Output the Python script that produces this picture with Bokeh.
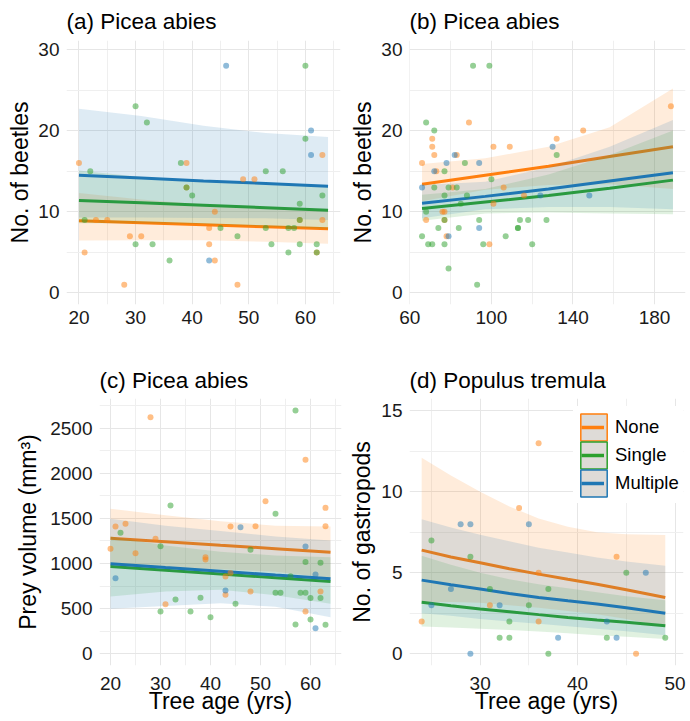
from bokeh.plotting import figure
from bokeh.models import FixedTicker, Range1d, Legend, LegendItem
from bokeh.layouts import column, row
from bokeh.embed import file_html
from bokeh.resources import INLINE

# ---------------- data ----------------
groups = ["None", "Single", "Multiple"]
colors = ["#ff7f0e", "#2ca02c", "#1f77b4"]

# (a) Picea abies: beetles vs tree age
a_none_x = [20, 21, 23, 25, 28, 29, 31, 39, 39, 43, 43, 44, 44, 48, 49, 51, 59, 62, 63, 63]
a_none_y = [16, 5, 9, 9, 1, 7, 7, 16, 13, 8, 6, 10, 4, 1, 14, 14, 9, 5, 17, 9]
a_single_x = [21, 22, 30, 30, 32, 33, 36, 38, 39, 40, 45, 48, 53, 53, 54, 56, 57, 57, 58, 59, 59, 59, 60, 60, 62, 62, 63]
a_single_y = [9, 15, 23, 6, 21, 6, 4, 16, 13, 12, 8, 7, 15, 8, 6, 15, 5, 8, 8, 11, 6, 9, 28, 19, 6, 5, 12]
a_multi_x = [43, 46, 61, 61]
a_multi_y = [4, 28, 20, 17]
a_fit_x = [20, 31, 42, 53, 64]
a_none_fit = [8.9, 8.65, 8.4, 8.15, 7.9]
a_none_lo = [6.45, 6.5, 6.5, 6.3, 6.05]
a_none_hi = [12.3, 11.5, 10.9, 10.5, 10.3]
a_single_fit = [11.4, 11.1, 10.8, 10.5, 10.2]
a_single_lo = [8.6, 8.6, 8.5, 8.2, 7.9]
a_single_hi = [15.1, 14.3, 13.8, 13.4, 13.2]
a_multi_fit = [14.5, 14.15, 13.8, 13.5, 13.15]
a_multi_lo = [9.3, 9.3, 9.25, 9.2, 9.0]
a_multi_hi = [22.7, 21.8, 20.6, 19.7, 19.2]

# (b) Picea abies: beetles vs tree age (older stands)
b_none_x = [66, 68, 71, 71, 72, 73, 76, 77, 77, 78, 81, 83, 89, 99, 101, 101, 106, 109, 116, 132, 145, 188]
b_none_y = [16, 9, 19, 18, 17, 15, 10, 9, 10, 7, 13, 17, 21, 6, 18, 11, 13, 18, 12, 19, 20, 23]
b_single_x = [66, 68, 68, 69, 71, 72, 72, 74, 77, 77, 77, 77, 79, 79, 83, 84, 85, 87, 88, 91, 93, 94, 96, 99, 100,
              107, 113, 113, 114, 118, 120, 127, 132]
b_single_y = [7, 21, 10, 6, 6, 20, 13, 8, 15, 12, 9, 6, 3, 13, 13, 8, 11, 16, 12, 28, 1, 9, 6, 28, 14,
              7, 8, 8, 9, 9, 6, 9, 17]
b_multi_x = [66, 72, 78, 79, 82, 94, 94, 124, 130, 148]
b_multi_y = [13, 15, 16, 7, 17, 16, 8, 12, 18, 12]
b_fit_x = [66, 97, 128, 158, 189]
b_none_fit = [13.4, 14.5, 15.6, 16.8, 18.0]
b_none_lo = [11.3, 12.7, 13.3, 13.4, 12.8]
b_none_hi = [15.9, 16.6, 18.0, 20.4, 25.2]
b_single_fit = [10.4, 11.2, 12.0, 12.9, 13.9]
b_single_lo = [8.9, 9.8, 9.9, 9.8, 9.7]
b_single_hi = [12.1, 12.8, 14.6, 17.0, 20.0]
b_multi_fit = [11.05, 11.9, 12.8, 13.8, 14.8]
b_multi_lo = [9.2, 10.3, 10.6, 10.6, 10.3]
b_multi_hi = [13.3, 13.7, 15.5, 18.0, 21.3]

# (c) Picea abies: prey volume vs tree age
c_none_x = [20, 21, 23, 25, 28, 29, 31, 39, 39, 43, 43, 44, 44, 48, 49, 51, 59, 59, 62, 63, 63]
c_none_y = [1163, 1411, 1440, 1115, 2620, 1274, 550, 1071, 1045, 857, 654, 1411, 894, 690, 1414, 1691, 2149, 469,
            690, 1617, 1414]
c_single_x = [22, 30, 30, 32, 33, 36, 38, 40, 45, 48, 53, 53, 54, 56, 57, 57, 58, 59, 59, 60, 60, 62, 62, 63]
c_single_y = [1340, 1193, 469, 1643, 602, 469, 620, 406, 554, 1152, 1551, 676, 676, 860, 2696, 325, 676, 676, 1016,
              617, 380, 1008, 617, 321]
c_multi_x = [21, 43, 46, 59, 61, 61]
c_multi_y = [838, 702, 1403, 1189, 879, 284]
c_fit_x = [20, 31, 42, 53, 64]
c_none_fit = [1281, 1242, 1203, 1165, 1126]
c_none_lo = [956, 950, 936, 910, 841]
c_none_hi = [1606, 1535, 1470, 1420, 1411]
c_single_fit = [968, 926, 884, 843, 801]
c_single_lo = [635, 690, 710, 650, 554]
c_single_hi = [1300, 1200, 1130, 1090, 1070]
c_multi_fit = [997, 955, 914, 872, 831]
c_multi_lo = [498, 530, 560, 520, 406]
c_multi_hi = [1496, 1420, 1360, 1300, 1256]

# (d) Populus tremula: gastropods vs tree age
d_none_x = [24, 31, 34, 36, 36, 36, 44, 46]
d_none_y = [2, 3, 9, 13, 5, 2, 6, 0]
d_single_x = [25, 29, 31, 32, 33, 33, 35, 37, 37, 43, 45, 49]
d_single_y = [7, 6, 4, 1, 2, 1, 3, 4, 0, 1, 5, 1]
d_multi_x = [25, 27, 28, 29, 29, 32, 35, 38, 43, 44, 47]
d_multi_y = [3, 4, 8, 8, 0, 3, 8, 1, 2, 1, 5]
d_fit_x = [24, 27, 30, 33, 36, 39, 42, 45, 49]
d_none_fit = [6.4, 5.98, 5.62, 5.25, 4.92, 4.6, 4.3, 3.95, 3.48]
d_none_lo = [3.2, 3.2, 3.15, 3.0, 2.85, 2.65, 2.45, 2.15, 1.65]
d_none_hi = [12.1, 11.0, 10.0, 9.1, 8.35, 7.85, 7.5, 7.38, 7.34]
d_single_fit = [3.18, 2.97, 2.77, 2.6, 2.42, 2.25, 2.09, 1.95, 1.74]
d_single_lo = [1.68, 1.62, 1.55, 1.47, 1.38, 1.27, 1.15, 1.05, 0.92]
d_single_hi = [6.05, 5.5, 5.0, 4.6, 4.3, 4.05, 3.8, 3.55, 3.3]
d_multi_fit = [4.55, 4.27, 4.0, 3.73, 3.48, 3.27, 3.07, 2.85, 2.5]
d_multi_lo = [2.5, 2.35, 2.15, 2.0, 1.85, 1.7, 1.55, 1.4, 1.15]
d_multi_hi = [8.3, 7.8, 7.35, 6.95, 6.55, 6.25, 5.95, 5.7, 5.43]

# ticks
a_xticks, a_xminor = [20, 30, 40, 50, 60], [15, 25, 35, 45, 55, 65]
beetle_yticks, beetle_yminor = [0, 10, 20, 30], [5, 15, 25]
b_xticks, b_xminor = [60, 100, 140, 180], [80, 120, 160]
c_yticks, c_yminor = [0, 500, 1000, 1500, 2000, 2500], [250, 750, 1250, 1750, 2250, 2750]
d_xticks, d_xminor = [30, 40, 50], [25, 35, 45]
d_yticks, d_yminor = [0, 5, 10, 15], [2.5, 7.5, 12.5]

FONT = "Liberation Sans"
NAN = float("nan")


def make_fig(width, height, xr, yr, xt, xm, yt, ym, borders, title, title_standoff, ylabel,
             ylab_standoff, xtick_standoff, xlabel=None):
    bl, br, bt, bb = borders
    p = figure(width=width, height=height, x_range=Range1d(*xr), y_range=Range1d(*yr),
               output_backend="svg", toolbar_location=None,
               min_border_left=bl, min_border_right=br, min_border_top=bt, min_border_bottom=bb)
    p.outline_line_color = None
    p.border_fill_color = "white"
    p.background_fill_color = "white"
    p.title.text = title
    p.title.text_font = FONT
    p.title.text_font_size = "22.5px"
    p.title.text_font_style = "normal"
    p.title.text_color = "black"
    p.title.align = "left"
    p.title.offset = 0
    p.title.standoff = title_standoff
    p.xaxis.ticker = FixedTicker(ticks=xt, minor_ticks=xm)
    p.yaxis.ticker = FixedTicker(ticks=yt, minor_ticks=ym)
    for ax in (p.xaxis[0], p.yaxis[0]):
        ax.axis_line_color = None
        ax.major_tick_line_color = None
        ax.minor_tick_line_color = None
        ax.major_tick_out = 0
        ax.major_tick_in = 0
        ax.minor_tick_out = 0
        ax.minor_tick_in = 0
        ax.major_label_text_font = FONT
        ax.major_label_text_font_size = "19px"
        ax.major_label_text_color = "#1a1a1a"
        ax.axis_label_text_font = FONT
        ax.axis_label_text_font_size = "23px"
        ax.axis_label_text_font_style = "normal"
        ax.axis_label_text_color = "black"
    p.yaxis.major_label_standoff = 7
    p.xaxis.major_label_standoff = xtick_standoff
    p.yaxis.axis_label = ylabel
    p.yaxis.axis_label_standoff = ylab_standoff
    if xlabel:
        p.xaxis.axis_label = xlabel
        p.xaxis.axis_label_standoff = -5
    for g in (p.xgrid[0], p.ygrid[0]):
        g.grid_line_color = "#e6e6e6"
        g.grid_line_width = 1
        g.minor_grid_line_color = "#efefef"
        g.minor_grid_line_width = 1
    return p


def draw(p, fit_x, fits, pts):
    for (mean, lo, hi), c in zip(fits, colors):
        p.varea(x=fit_x, y1=lo, y2=hi, fill_color=c, fill_alpha=0.15)
        p.line(x=fit_x, y=mean, line_color=c, line_width=3)
    for (px, py), c in zip(pts, colors):
        p.scatter(x=px, y=py, size=6, fill_color=c, fill_alpha=0.5, line_color=None)


pa = make_fig(345, 350, (17.8, 66.2), (-1.42, 31.1), a_xticks, a_xminor, beetle_yticks, beetle_yminor,
              (66, 5, 40, 46), "(a) Picea abies", 13, "No. of beetles", 2, 6)
draw(pa, a_fit_x,
     [(a_none_fit, a_none_lo, a_none_hi), (a_single_fit, a_single_lo, a_single_hi),
      (a_multi_fit, a_multi_lo, a_multi_hi)],
     [(a_none_x, a_none_y), (a_single_x, a_single_y), (a_multi_x, a_multi_y)])

pb = make_fig(344, 350, (59.85, 195.15), (-1.42, 31.1), b_xticks, b_xminor, beetle_yticks, beetle_yminor,
              (64, 4, 40, 46), "(b) Picea abies", 13, "No. of beetles", 2, 6)
draw(pb, b_fit_x,
     [(b_none_fit, b_none_lo, b_none_hi), (b_single_fit, b_single_lo, b_single_hi),
      (b_multi_fit, b_multi_lo, b_multi_hi)],
     [(b_none_x, b_none_y), (b_single_x, b_single_y), (b_multi_x, b_multi_y)])

pc = make_fig(345, 370, (17.8, 66.2), (-129.7, 2829), a_xticks, a_xminor, c_yticks, c_yminor,
              (99, 4, 48, 55), "(c) Picea abies", 12, "Prey volume (mm³)", 6, 11, "Tree age (yrs)")
draw(pc, c_fit_x,
     [(c_none_fit, c_none_lo, c_none_hi), (c_single_fit, c_single_lo, c_single_hi),
      (c_multi_fit, c_multi_lo, c_multi_hi)],
     [(c_none_x, c_none_y), (c_single_x, c_single_y), (c_multi_x, c_multi_y)])

# frame widened on the right so the legend text is not clipped (same px per year)
pd_ = make_fig(344, 370, (22.75, 50.87), (-0.72, 15.76), d_xticks, d_xminor, d_yticks, d_yminor,
               (64, 6, 47, 55), "(d) Populus tremula", 12, "No. of gastropods", 3, 11, "Tree age (yrs)")
draw(pd_, d_fit_x,
     [(d_none_fit, d_none_lo, d_none_hi), (d_single_fit, d_single_lo, d_single_hi),
      (d_multi_fit, d_multi_lo, d_multi_hi)],
     [(d_none_x, d_none_y), (d_single_x, d_single_y), (d_multi_x, d_multi_y)])

# ---- legend: white panel, labels, grey outlined key boxes, coloured key lines ----
blank = pd_.quad(left=[NAN], right=[NAN], top=[NAN], bottom=[NAN], fill_alpha=0, line_alpha=0)

panel = Legend(items=[LegendItem(label=" ", renderers=[blank])], location=(164, 162),
               glyph_width=112, glyph_height=97, label_height=97, spacing=0, padding=0, margin=0,
               label_standoff=0, label_text_font_size="1px",
               background_fill_color="white", background_fill_alpha=1, border_line_color=None)
pd_.add_layout(panel)

box_y = [221, 193, 165]
for c, y in zip(colors, box_y):
    box = pd_.quad(left=[NAN], right=[NAN], top=[NAN], bottom=[NAN], fill_color="#dedbd7",
                   line_color=c, line_width=1.5)
    key = Legend(items=[LegendItem(label=" ", renderers=[box])], location=(168, y),
                 glyph_width=33, glyph_height=34, label_height=34, spacing=0, padding=0, margin=0,
                 label_standoff=0, label_text_font_size="1px",
                 background_fill_alpha=0, border_line_color=None)
    pd_.add_layout(key)

line_items = []
for c in colors:
    ln = pd_.line(x=[NAN], y=[NAN], line_color=c, line_width=3.5)
    line_items.append(LegendItem(label=" ", renderers=[ln]))
line_legend = Legend(items=line_items, location=(172, 168), glyph_width=23, glyph_height=28, label_height=28,
                     spacing=0, padding=0, margin=0, label_standoff=0, label_text_font_size="1px",
                     background_fill_alpha=0, border_line_color=None)
pd_.add_layout(line_legend)

label_legend = Legend(items=[LegendItem(label=g, renderers=[blank]) for g in groups],
                      location=(171, 168), glyph_width=30, glyph_height=28, label_height=28, spacing=0,
                      padding=0, margin=0, label_standoff=5,
                      label_text_font=FONT, label_text_font_size="18.5px", label_text_color="black",
                      background_fill_alpha=0, border_line_color=None)
pd_.add_layout(label_legend)

layout = column(row(pa, pb), row(pc, pd_))
open("out.html", "w").write(file_html(layout, INLINE))
